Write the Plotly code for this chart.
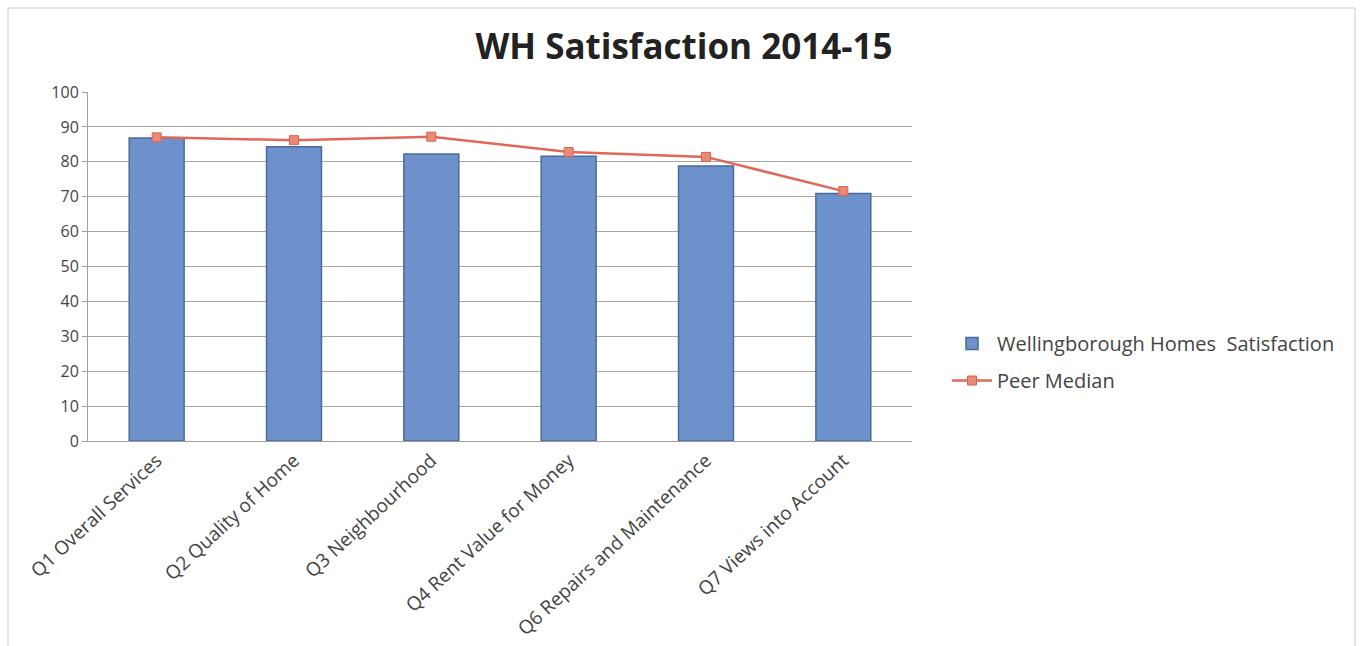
import plotly.graph_objects as go

categories = ["Q1 Overall Services", "Q2 Quality of Home", "Q3 Neighbourhood",
              "Q4 Rent Value for Money", "Q6 Repairs and Maintenance", "Q7 Views into Account"]
wh_satisfaction = [86.8, 84.3, 82.2, 81.6, 78.8, 70.9]
peer_median = [87.0, 86.2, 87.2, 82.8, 81.4, 71.6]
y_ticks = [0, 10, 20, 30, 40, 50, 60, 70, 80, 90, 100]

fig = go.Figure()
fig.add_trace(go.Bar(
    x=categories, y=wh_satisfaction, name="Wellingborough Homes  Satisfaction",
    legendgroup="wh",
    marker=dict(color="#6D92CB", line=dict(color="#4A6A9A", width=1.5)),
))
fig.add_trace(go.Scatter(
    x=categories, y=peer_median, name="Peer Median", mode="lines+markers",
    legendgroup="peer",
    line=dict(color="#E0685A", width=2.5),
    marker=dict(symbol="square", size=9, color="#E98A78", line=dict(color="#D9604F", width=1)),
))

L, R, T, B = 88, 1360 - 912, 92, 646 - 441
W, H = 1360 - L - R, 646 - T - B

def px_x(p):
    return (p - L) / W

def px_y(p):
    return (646 - B - p) / H

fig.update_layout(
    width=1360, height=646,
    margin=dict(l=L, r=R, t=T, b=B),
    paper_bgcolor="white", plot_bgcolor="white",
    font=dict(family="Open Sans, Liberation Sans, sans-serif", color="#404040"),
    title=dict(text="<b>WH Satisfaction 2014-15</b>", x=684 / 1360, xanchor="center",
               y=1 - 47 / 646, yanchor="middle",
               font=dict(size=35, color="#222222", family="Open Sans, sans-serif")),
    bargap=0.6,
    showlegend=True,
    legend=dict(x=px_x(947), y=px_y(324), xanchor="left", yanchor="top",
                font=dict(size=20, color="#444444"), bgcolor="rgba(0,0,0,0)",
                itemwidth=40, tracegroupgap=8),
    xaxis=dict(showgrid=False, showline=True, linecolor="#A0A0A0", linewidth=1,
               tickangle=-43, tickfont=dict(size=19, color="#444444"),
               ticks="", automargin=False),
    yaxis=dict(range=[0, 100], tickvals=y_ticks, showgrid=True, gridcolor="#A8A8A8",
               gridwidth=1, showline=True, linecolor="#A0A0A0", linewidth=1,
               ticks="outside", ticklen=5, tickcolor="#A0A0A0",
               tickfont=dict(size=16, color="#444444"), zeroline=False, automargin=False),
    shapes=[
        dict(type="line", xref="paper", yref="paper", x0=px_x(8), x1=px_x(8),
             y0=px_y(8), y1=px_y(646), line=dict(color="#C8C8C8", width=1)),
        dict(type="line", xref="paper", yref="paper", x0=px_x(8), x1=px_x(1355),
             y0=px_y(8), y1=px_y(8), line=dict(color="#C8C8C8", width=1)),
        dict(type="line", xref="paper", yref="paper", x0=px_x(1355), x1=px_x(1355),
             y0=px_y(8), y1=px_y(646), line=dict(color="#C8C8C8", width=1)),
    ],
)

fig.write_html("out.html")
